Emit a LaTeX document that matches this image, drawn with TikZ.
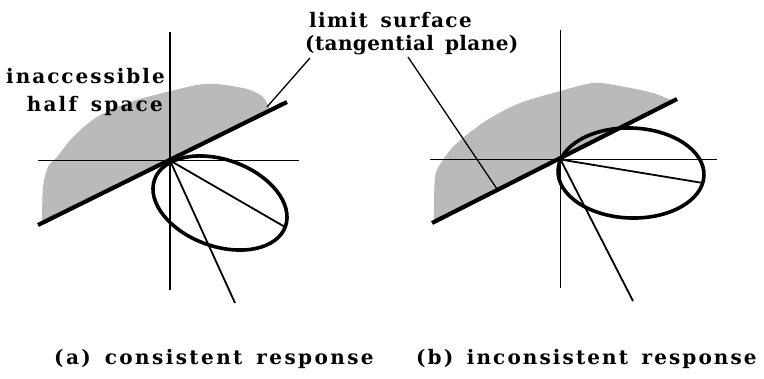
\documentclass[tikz,border=0pt]{standalone}
\usepackage{fontspec}
\setmainfont{DejaVu Serif}[WordSpace=1.5]
\begin{document}
\begin{tikzpicture}[x=1pt,y=-1pt,
  axis/.style={line width=1.8pt},
  ray/.style={line width=1.8pt},
  limitline/.style={line width=4.2pt},
  ell/.style={line width=3.6pt},
  leader/.style={line width=1.3pt},
  halfspace/.style={fill=black!27},
  lbl/.style={font=\fontsize{20}{24}\selectfont\bfseries\addfontfeatures{LetterSpace=#1}, inner sep=0pt}]
\useasboundingbox (0,0) rectangle (764,379);

% ---------- panel (a)
\coordinate (oa) at (170,160.5);
\fill[halfspace] plot[smooth] coordinates {(42,223) (43,187) (48,167) (57,157) (73,137) (97,117) (130,102) (163,93) (197,85) (217,84) (247,89) (263,97) (270,110)} -- cycle;
\coordinate (va1) at (170,32);   \coordinate (va2) at (170,290);
\coordinate (ha1) at (38,160.5); \coordinate (ha2) at (299,160.5);
\coordinate (la1) at (38,225);   \coordinate (la2) at (287,102);
\coordinate (pa1) at (285,227);  \coordinate (pa2) at (235,303);
\draw[axis] (va1) -- (va2);
\draw[axis] (ha1) -- (ha2);
\draw[limitline] (la1) -- (la2);
\draw[ell, rotate around={-19.8:(220,203)}] (220,203) ellipse [x radius=69.5pt, y radius=43.3pt];
\draw[ray] (oa) -- (pa1);
\draw[ray] (oa) -- (pa2);

% ---------- panel (b)
\coordinate (ob) at (560.5,159.5);
\fill[halfspace] plot[smooth] coordinates {(434,222) (435,177) (443,160) (457,143) (487,120) (520,103) (557,92) (593,83) (620,86) (653,93) (673,101)} -- cycle;
\coordinate (vb1) at (560.5,30);  \coordinate (vb2) at (560.5,288);
\coordinate (hb1) at (430,159.5); \coordinate (hb2) at (717,159.5);
\coordinate (lb1) at (432,223);   \coordinate (lb2) at (677,99);
\coordinate (pb1) at (703,183);   \coordinate (pb2) at (633,301);
\draw[axis] (vb1) -- (vb2);
\draw[axis] (hb1) -- (hb2);
\draw[limitline] (lb1) -- (lb2);
\draw[ell, rotate around={-2:(631,173)}] (631,173) ellipse [x radius=73pt, y radius=45pt];
\draw[ray] (ob) -- (pb1);
\draw[ray] (ob) -- (pb2);

% ---------- labels
\node[lbl=10, anchor=base east] (inacc) at (165,84) {inaccessible};
\node[lbl=11, anchor=base east] (half) at (163,112) {half space};
\node[lbl=7, anchor=base west] (lim1) at (309,28) {limit surface};
\node[lbl=2, anchor=base west] (lim2) at (305,51) {(tangential plane)};
\coordinate (ta) at (310,58);  \coordinate (tea) at (267,107);
\coordinate (tb) at (408,57);  \coordinate (teb) at (497,189);
\draw[leader] (ta) -- (tea);
\draw[leader] (tb) -- (teb);
\node[lbl=12, anchor=base west] (capa) at (54,365) {(a) consistent response};
\node[lbl=10.5, anchor=base west] (capb) at (416,365) {(b) inconsistent response};
\end{tikzpicture}
\end{document}
